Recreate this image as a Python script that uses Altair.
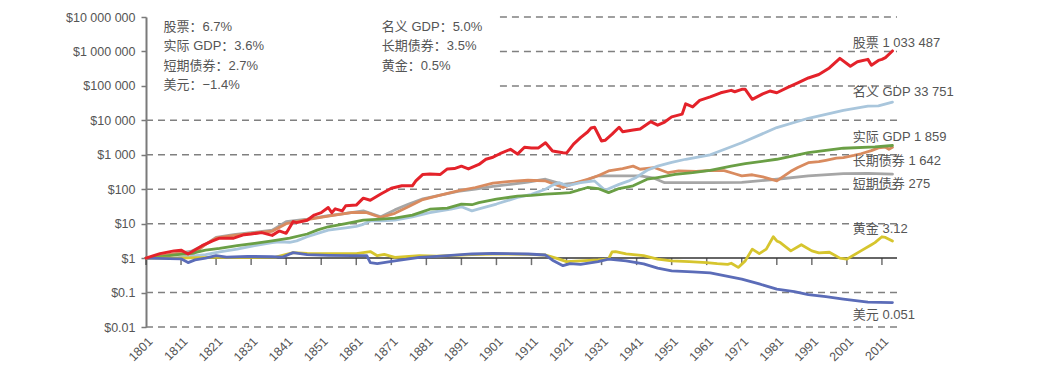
import altair as alt
import pandas as pd

# ---- data: (year, log10 of dollar value) ----
stocks = [(1801,0.0),(1805,0.13),(1809,0.21),(1811,0.23),(1813,0.12),(1817,0.36),(1820,0.5),(1822,0.58),
          (1826,0.58),(1829,0.68),(1831,0.7),(1834,0.74),(1837,0.66),(1839,0.79),(1841,0.72),(1843,1.06),
          (1844,1.03),(1847,1.1),(1849,1.25),(1851,1.32),(1853,1.47),(1854,1.32),(1855,1.43),(1857,1.37),
          (1858,1.52),(1861,1.54),(1863,1.74),(1865,1.68),(1868,1.86),(1871,2.03),(1874,2.1),(1877,2.1),
          (1878,2.24),(1880,2.43),(1882,2.44),(1885,2.43),(1887,2.59),(1889,2.6),(1891,2.67),(1893,2.59),
          (1896,2.72),(1898,2.87),(1900,2.93),(1902,3.03),(1905,3.16),(1907,3.02),(1909,3.22),(1911,3.2),
          (1913,3.2),(1915,3.35),(1917,3.11),(1920,3.06),(1921,3.05),(1923,3.31),(1925,3.5),(1927,3.66),
          (1928,3.78),(1929,3.8),(1931,3.4),(1932,3.42),(1934,3.6),(1936,3.8),(1937,3.67),(1940,3.72),
          (1942,3.75),(1945,3.96),(1947,3.86),(1949,3.95),(1951,4.1),(1954,4.18),(1955,4.48),(1957,4.39),
          (1959,4.58),(1962,4.68),(1965,4.8),(1968,4.87),(1969,4.83),(1971,4.9),(1972,4.9),(1974,4.61),
          (1977,4.77),(1979,4.85),(1981,4.8),(1984,4.95),(1987,5.09),(1990,5.23),(1993,5.33),(1996,5.52),
          (1999,5.8),(2002,5.57),(2004,5.7),(2007,5.77),(2008,5.6),(2010,5.74),(2011,5.77),(2012,5.82),
          (2014,6.014)]

nominal_gdp = [(1801,0.0),(1805,0.02),(1809,0.0),(1813,0.05),(1816,0.08),(1818,0.1),(1822,0.18),(1827,0.26),
               (1832,0.36),(1837,0.45),(1839,0.47),(1842,0.46),(1844,0.5),(1847,0.62),(1850,0.72),(1853,0.81),
               (1858,0.88),(1861,0.92),(1863,0.98),(1865,1.08),(1868,1.08),(1872,1.1),(1877,1.2),(1882,1.32),
               (1888,1.42),(1891,1.49),(1894,1.37),(1896,1.43),(1901,1.57),(1907,1.76),(1911,1.85),(1915,2.0),
               (1917,2.12),(1919,2.19),(1921,2.1),(1925,2.19),(1929,2.24),(1932,1.97),(1936,2.14),(1939,2.25),
               (1941,2.35),(1944,2.55),(1947,2.67),(1951,2.78),(1955,2.87),(1962,3.0),(1971,3.35),(1981,3.79),
               (1990,4.06),(2000,4.29),(2007,4.41),(2010,4.42),(2014,4.528)]

real_gdp = [(1801,0.0),(1806,0.05),(1810,0.1),(1814,0.14),(1818,0.23),(1822,0.28),(1827,0.36),(1832,0.43),
            (1837,0.5),(1842,0.58),(1847,0.7),(1850,0.82),(1853,0.91),(1858,1.0),(1863,1.1),(1868,1.13),
            (1872,1.16),(1877,1.25),(1880,1.35),(1882,1.42),(1887,1.45),(1891,1.57),(1894,1.55),(1896,1.61),
            (1901,1.71),(1907,1.8),(1911,1.82),(1915,1.86),(1919,1.88),(1922,1.9),(1927,2.05),(1930,2.02),
            (1933,1.9),(1936,2.02),(1940,2.1),(1944,2.29),(1947,2.34),(1952,2.43),(1957,2.48),(1962,2.55),
            (1968,2.67),(1972,2.74),(1981,2.87),(1990,3.06),(2000,3.19),(2009,3.23),(2014,3.269)]

long_bonds = [(1801,0.0),(1806,0.08),(1811,0.15),(1814,0.08),(1818,0.4),(1821,0.58),(1826,0.66),(1831,0.72),
              (1837,0.78),(1841,1.0),(1847,1.12),(1853,1.22),(1860,1.33),(1864,1.32),(1868,1.18),(1872,1.3),
              (1876,1.5),(1880,1.7),(1885,1.83),(1890,1.95),(1895,2.05),(1900,2.18),(1905,2.23),(1910,2.26),
              (1915,2.24),(1920,2.05),(1924,2.2),(1927,2.29),(1930,2.39),(1933,2.53),(1937,2.6),(1940,2.67),
              (1942,2.58),(1946,2.63),(1950,2.48),(1953,2.53),(1958,2.52),(1962,2.55),(1966,2.54),(1969,2.45),
              (1971,2.39),(1974,2.42),(1977,2.36),(1981,2.24),(1983,2.38),(1985,2.52),(1987,2.63),(1990,2.77),
              (1993,2.8),(1995,2.84),(1998,2.9),(2000,2.92),(2003,2.98),(2005,3.03),(2008,3.12),(2010,3.2),
              (2012,3.22),(2013,3.16),(2014,3.215)]

short_bonds = [(1801,0.0),(1806,0.08),(1811,0.15),(1814,0.2),(1818,0.4),(1821,0.6),(1826,0.68),(1831,0.74),
               (1837,0.81),(1841,1.06),(1847,1.13),(1853,1.23),(1858,1.3),(1863,1.37),(1868,1.2),(1872,1.4),
               (1876,1.57),(1880,1.72),(1885,1.83),(1890,1.94),(1895,2.0),(1900,2.08),(1905,2.14),(1910,2.21),
               (1915,2.29),(1920,2.14),(1925,2.2),(1930,2.39),(1936,2.39),(1942,2.39),(1946,2.32),(1949,2.19),
               (1955,2.19),(1962,2.19),(1971,2.2),(1981,2.29),(1990,2.39),(2000,2.45),(2007,2.46),(2014,2.439)]

gold = [(1801,0.0),(1810,0.0),(1820,0.02),(1830,0.02),(1838,0.03),(1843,0.16),(1847,0.14),(1853,0.13),
        (1861,0.13),(1865,0.19),(1867,0.07),(1869,0.11),(1872,0.02),(1879,0.07),(1884,0.06),(1894,0.1),
        (1900,0.12),(1910,0.11),(1915,0.09),(1918,0.0),(1921,-0.1),(1925,-0.08),(1930,-0.05),(1933,-0.02),
        (1934,0.18),(1935,0.19),(1938,0.12),(1943,0.07),(1947,-0.03),(1951,-0.08),(1956,-0.1),(1961,-0.13),
        (1964,-0.16),(1967,-0.18),(1968,-0.15),(1970,-0.27),(1972,-0.08),(1974,0.26),(1976,0.13),(1978,0.26),
        (1980,0.62),(1981,0.5),(1982,0.45),(1985,0.21),(1988,0.39),(1991,0.21),(1993,0.15),(1996,0.17),
        (1999,0.0),(2001,-0.03),(2005,0.21),(2008,0.39),(2009,0.45),(2011,0.62),(2012,0.6),(2014,0.494)]

dollar = [(1801,0.0),(1811,-0.02),(1813,-0.13),(1815,-0.05),(1818,0.0),(1821,0.07),(1824,0.03),(1830,0.05),
          (1837,0.04),(1840,0.03),(1843,0.16),(1847,0.1),(1853,0.08),(1860,0.07),(1864,0.07),(1865,-0.13),
          (1867,-0.16),(1872,-0.08),(1879,0.02),(1884,0.05),(1894,0.12),(1900,0.14),(1910,0.12),(1915,0.09),
          (1917,-0.06),(1920,-0.22),(1922,-0.16),(1925,-0.18),(1930,-0.1),(1933,-0.03),(1938,-0.08),(1943,-0.17),
          (1947,-0.29),(1951,-0.37),(1957,-0.4),(1962,-0.43),(1971,-0.61),(1976,-0.75),(1981,-0.9),(1986,-0.97),
          (1990,-1.06),(1995,-1.12),(2000,-1.19),(2007,-1.28),(2014,-1.29)]

# draw order (last on top)
series_names = ["短期债券", "长期债券", "名义 GDP", "实际 GDP", "黄金", "美元", "股票"]
series_data = [short_bonds, long_bonds, nominal_gdp, real_gdp, gold, dollar, stocks]
series_colors = ["#a6a6a6", "#d98b5f", "#a9c6dc", "#6a9f45", "#d6c52e", "#5b6cb8", "#e4222a"]

end_labels = ["股票 1 033 487", "名义 GDP 33 751", "实际 GDP 1 859", "长期债券 1 642",
              "短期债券 275", "黄金 3.12", "美元 0.051"]
end_values = [1033487, 33751, 1859, 1642, 275, 3.12, 0.051]
end_dy = [-8, -10, -9, 14, 10, -12, 12]

summary_left = ["股票：6.7%", "实际 GDP：3.6%", "短期债券：2.7%", "美元：−1.4%"]
summary_right = ["名义 GDP：5.0%", "长期债券：3.5%", "黄金：0.5%"]

x_ticks = list(range(1801, 2012, 10))
y_ticks = [0.01, 0.1, 1, 10, 100, 1000, 10000, 100000, 1000000, 10000000]
grid_full = [0.01, 0.1, 10, 100, 1000, 10000]
grid_right = [100000, 1000000, 10000000]

X0, X1 = 1801, 2015.3
FONT = "Liberation Sans, Noto Sans CJK SC"
TXT = "#555555"

xscale = alt.Scale(domain=[X0, X1], nice=False, zero=False)
yscale = alt.Scale(type="log", domain=[0.01, 1e7], nice=False)

xaxis = alt.Axis(values=x_ticks, format="d", labelAngle=-45, labelAlign="right", labelBaseline="middle",
                 domain=False, ticks=False, grid=False, labelColor=TXT, labelFontSize=12.5, labelFont=FONT,
                 labelPadding=12, labelOffset=4, title=None)
yaxis = alt.Axis(values=y_ticks, grid=False, domainColor="#7a7a7a", domainWidth=2, tickColor="#7a7a7a",
                 tickSize=5, tickWidth=1.5, labelColor=TXT, labelFontSize=12.5, labelFont=FONT, labelPadding=6,
                 labelExpr="'$' + replace(format(datum.value, ','), regexp(',', 'g'), ' ')", title=None)


def X(field):
    return alt.X(field, type="quantitative", scale=xscale, axis=xaxis)


def Y(field):
    return alt.Y(field, type="quantitative", scale=yscale, axis=yaxis)


layers = []

# dashed grid lines
grid_df = pd.DataFrame({
    "y": grid_full + grid_right,
    "x0": [X0] * len(grid_full) + [1902] * len(grid_right),
    "x1": [X1] * (len(grid_full) + len(grid_right)),
})
layers.append(alt.Chart(grid_df).mark_rule(color="#808080", strokeWidth=1.5, strokeDash=[7, 5])
              .encode(x=X("x0"), x2="x1", y=Y("y")))

# solid $1 baseline with ticks
base_df = pd.DataFrame({"y": [1], "x0": [X0], "x1": [X1]})
layers.append(alt.Chart(base_df).mark_rule(color="#333333", strokeWidth=1.5)
              .encode(x=X("x0"), x2="x1", y=Y("y")))
tick_df = pd.DataFrame({"year": x_ticks, "y": [1] * len(x_ticks)})
layers.append(alt.Chart(tick_df).mark_tick(color="#333333", orient="vertical", size=7, thickness=1.5, yOffset=3.5)
              .encode(x=X("year"), y=Y("y")))

# series lines
for name, data, color in zip(series_names, series_data, series_colors):
    df = pd.DataFrame({"year": [d[0] for d in data], "value": [10 ** d[1] for d in data]})
    layers.append(alt.Chart(df).mark_line(color=color, strokeWidth=3 if name == "股票" else 2.8,
                                          strokeJoin="round", strokeCap="round")
                  .encode(x=X("year"), y=Y("value")))

# end labels
for lab, val, dy in zip(end_labels, end_values, end_dy):
    df = pd.DataFrame({"x": [2002.7], "y": [val], "t": [lab]})
    layers.append(alt.Chart(df).mark_text(align="left", baseline="middle", dy=dy, font=FONT, fontSize=13,
                                          color=TXT)
                  .encode(x=X("x"), y=Y("y"), text="t:N"))

# summary text block
for xs, lines in [(1806, summary_left), (1868.3, summary_right)]:
    df = pd.DataFrame({"x": [xs], "y": [1e7]})
    layers.append(alt.Chart(df).mark_text(align="left", baseline="top", dy=4, font=FONT, fontSize=13,
                                          color=TXT, lineHeight=19.4, text=lines)
                  .encode(x=X("x"), y=Y("y")))

chart = alt.layer(*layers).properties(
    width=751, height=310,
    autosize=alt.AutoSizeParams(type="none"),
    padding={"left": 138, "top": 9, "right": 130, "bottom": 40},
    background="white",
).configure_view(stroke=None)

chart.save("out.html", embed_options={"renderer": "svg", "actions": False})
